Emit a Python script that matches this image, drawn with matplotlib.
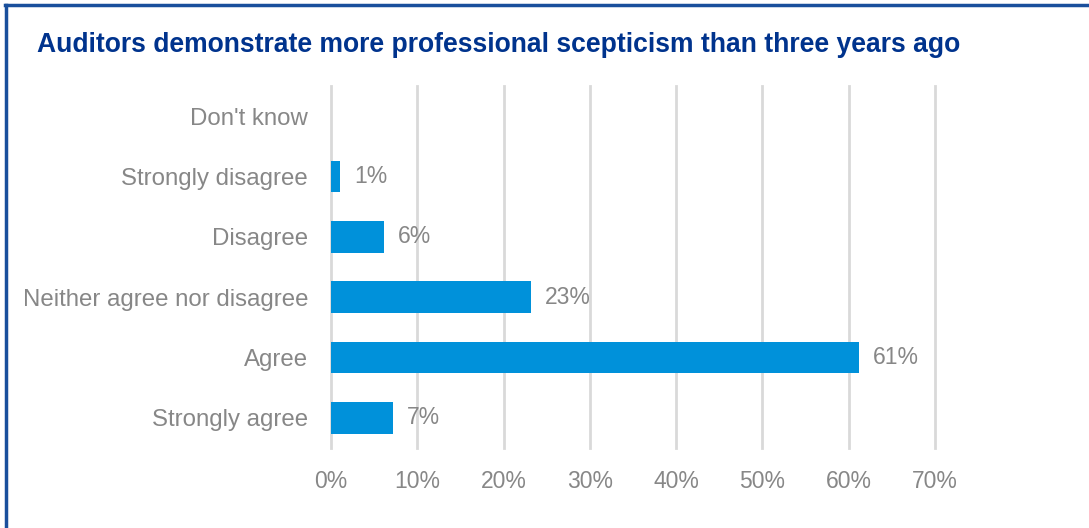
import matplotlib.pyplot as plt
from matplotlib.lines import Line2D

categories = ["Don't know", 'Strongly disagree', 'Disagree',
              'Neither agree nor disagree', 'Agree', 'Strongly agree']
values = [0, 1.1, 6.1, 23.2, 61.2, 7.2]
labels = ['', '1%', '6%', '23%', '61%', '7%']
xticks = [0, 10, 20, 30, 40, 50, 60, 70]

plt.rcParams['font.family'] = ['Liberation Sans', 'DejaVu Sans']
grey = '#878787'
blue = '#0091DA'
navy = '#00338D'

fig = plt.figure(figsize=(10.89, 5.28), dpi=100)
ax = fig.add_axes([331 / 1089, 1 - 448 / 528, (935 - 331) / 1089, (448 - 86) / 528])

ypos = list(range(len(categories)))
ax.barh(ypos, values, height=0.53, color=blue, zorder=3)
for y, v, lab in zip(ypos, values, labels):
    if lab:
        ax.text(v + 1.6, y, lab, va='center', ha='left', fontsize=16.5, color=grey)

ax.set_xlim(0, 70)
ax.set_ylim(len(categories) - 0.5, -0.5)
ax.set_yticks(ypos)
ax.set_yticklabels(categories)
ax.set_xticks(xticks)
ax.set_xticklabels([f'{t}%' for t in xticks])
ax.tick_params(axis='both', length=0, labelsize=16.5, labelcolor=grey)
ax.tick_params(axis='y', pad=16.5, labelsize=17.3)
ax.tick_params(axis='x', pad=16)
ax.grid(axis='x', color='#d9d9d9', linewidth=2, zorder=0)
for gl in ax.get_xgridlines():
    gl.set_clip_on(False)
for s in ax.spines.values():
    s.set_visible(False)

fig.text(37 / 1089, 1 - 45 / 528, 'Auditors demonstrate more professional scepticism than three years ago',
         fontsize=19.1, fontweight='bold', color=navy, va='center', ha='left')

# outer frame: top and left edges only
fig.add_artist(Line2D([5 / 1089, 1], [1 - 5 / 528, 1 - 5 / 528], color='#1a4f9c', linewidth=2.5,
                      transform=fig.transFigure))
fig.add_artist(Line2D([6 / 1089, 6 / 1089], [0, 1 - 5 / 528], color='#1a4f9c', linewidth=2.5,
                      transform=fig.transFigure))

fig.savefig('out.png', dpi=100)
